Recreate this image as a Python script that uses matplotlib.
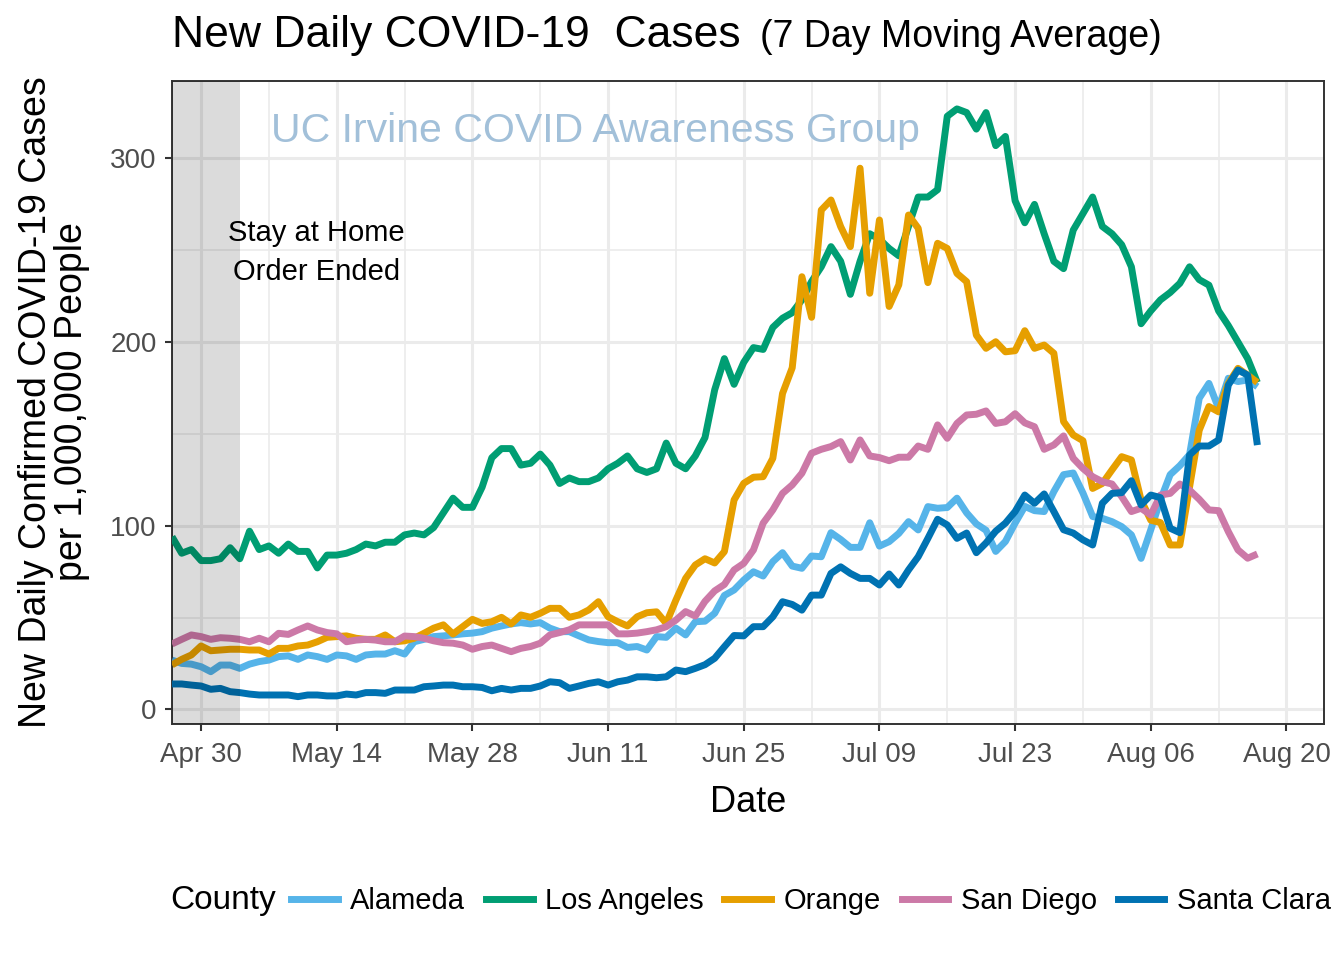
import matplotlib
matplotlib.use("Agg")
import matplotlib.pyplot as plt
from matplotlib.lines import Line2D
import pandas as pd

plt.rcParams['font.family'] = ['Liberation Sans', 'DejaVu Sans']

# daily values, Apr 27 .. Aug 17 2020 (7 day moving average, per 1,000,000 people)
start_date = "2020-04-27"
n_days = 113

alameda = [26.8, 25, 24.6, 23.2, 20.5, 24.1, 24.1, 22.3, 24.6, 26,
           26.8, 28.7, 29.1, 27.2, 29.6, 28.7, 27.2, 29.6, 29.1, 27.2,
           29.6, 30.1, 30.1, 31.9, 30.1, 36.8, 38.1, 39.6, 40, 40.5,
           41.1, 41.5, 42.3, 44.2, 45.4, 46.5, 47.2, 46.5, 47.2, 44.2,
           42.3, 42.3, 40, 37.8, 36.9, 36.3, 36.3, 33.7, 34.2, 32.3,
           39.6, 39.2, 44.2, 40.5, 47.7, 48, 52.3, 62, 65,
           70.4, 74.9, 72.6, 80.4, 85.3, 78, 76.8, 83.5, 83.1, 96.2,
           92.5, 88.2, 88.2, 101.6, 88.9, 91.3, 95.8, 102.2, 97.7, 110.4,
           109.5, 109.9, 115, 107, 101, 97.5, 86, 91.4, 101.4, 110.5,
           108.2, 107.7, 118.6, 127.8, 128.7, 117.8, 105, 104, 102.2, 99.5,
           95, 82.2, 97.8, 114, 127.8, 132.7, 138.7, 169.4, 177.5, 163.9,
           180.3, 178.5, 179.4, 175.7]

los_angeles = [94, 85, 87, 81, 81, 82, 88, 82, 97, 87,
               89, 85, 90, 86, 86, 77, 84, 84, 85, 87,
               90, 89, 91, 91, 95, 96, 95, 99, 107, 115,
               110, 110, 121, 137, 142, 142, 133, 134, 139, 133,
               123, 126, 124, 124, 126, 131, 134, 138, 131, 129,
               131, 145, 134, 131, 138, 148, 174, 191, 177, 189,
               197, 196,
               208, 213, 216, 223, 233, 241, 252, 244, 226, 244,
               259, 256, 251, 247, 263, 279, 279, 283, 323, 327,
               325, 316, 325, 307, 312, 277, 265, 275, 259, 244,
               240, 261, 270, 279, 263, 259, 253, 241, 210, 217,
               223, 227, 232, 241, 234, 231, 217, 209, 200, 191,
               178]

orange = [24.2, 27.2, 29.6, 34.5, 31.9, 32.3, 32.7, 32.7, 32.3, 32.3,
          30.1, 33.2, 33.2, 34.5, 35, 36.8, 39.2, 39.6, 40, 38.7,
          38.1, 38.1, 40.5, 36.8, 37.3, 38.7, 41.4, 44.2, 46, 41,
          45, 49, 46.8, 47.7, 50.1, 46.5, 51.4, 50.1, 52.3, 55,
          55, 50.1, 51.4, 54.1, 58.6, 50.4, 47.7, 45.4, 50.4, 52.6,
          53.1, 46.8, 59.5, 71.3, 78.6, 82, 79.7, 85.9, 114,
          123.1, 126.4, 126.7, 136.7, 172, 186, 235.6, 213.5, 271.9, 277.4,
          262.9, 252, 294.7, 226.6, 266.5, 219.4, 231.2, 269.2, 262, 232.4,
          253.8, 251, 237.4, 232.9, 203.8, 196.6, 200.2, 194.7, 195.3, 206.2,
          196.6, 198.4, 193.9, 156.7, 149.4, 146.3, 120.3, 123, 130.4, 137.6,
          135.8, 114, 103, 101.7, 89.5, 89.5, 121, 152, 164.9, 162,
          177.5, 185.7, 182, 178]

san_diego = [35.6, 38.1, 40.5, 39.6, 38.1, 39, 38.7, 38.1, 36.8, 38.7,
             36.8, 41.4, 40.8, 43.2, 45.4, 43.2, 41.8, 41.1, 36.8, 37.7,
             38.1, 37.7, 36.8, 36.8, 39.9, 39.6, 38.7, 37.3, 36.3, 36,
             35, 32.7, 34.2, 35, 33.2, 31.4, 33.2, 34.2, 36, 40.5,
             41.8, 43.3, 46, 46, 46, 46, 41.1, 41.1, 41.5, 42.3,
             43.3, 45, 48.6, 53.2, 50.8, 58.8, 64.5, 68, 75.9,
             79.5, 86.8, 101.4, 108.6, 117.6, 122.2, 128.6, 139.5, 141.6, 143.1,
             145.8, 135.8, 146.7, 138, 137.1, 135.4, 137.3, 137.3, 143.4, 141.6,
             154.9, 147.6, 155.7, 160.3, 160.7, 162.5, 155.7, 156.6, 161, 156,
             153.9, 141.6, 144, 148.9, 136.7, 131.2, 126.7, 124, 122.7, 115.8,
             107.7, 109.5, 105.8, 116.7, 117.6, 122.7, 119.4, 114.4, 108.6, 108.2,
             96.8, 86.8, 82.3, 84.6]

santa_clara = [13.8, 13.8, 13.2, 12.7, 10.9, 11.4, 9.6, 9.1, 8.3, 7.8,
               7.8, 7.8, 7.8, 6.9, 7.8, 7.8, 7.3, 7.3, 8.3, 7.8,
               9.1, 9.1, 8.7, 10.5, 10.5, 10.5, 12.3, 12.7, 13.2, 13.2,
               12.3, 12.3, 11.9, 10.1, 11.4, 10.5, 11.4, 11.4, 12.7, 15,
               14.5, 11.4, 12.7, 14.1, 15, 13.2, 15, 15.9, 17.7, 17.7,
               17.2, 17.7, 21.4, 20.5, 22.3, 24.3, 27.8, 34.1, 40.2,
               40, 45, 45, 50.4, 58.6, 57.1, 54, 62.2, 62.2, 74,
               77.6, 74, 71.3, 71.3, 67.7, 73.7, 67.7, 75.9, 83.1, 93.1,
               103.5, 100.4, 93.1, 96, 85.3, 90.6, 97, 101.4, 107.7, 116.7,
               112.2, 117.3, 107.7, 97.8, 96, 92.3, 89.5, 112.2, 117.6, 118,
               124.5, 111.3, 116.7, 115.3, 98.6, 96.2, 138.5, 143.4, 143.4, 146.7,
               176.6, 184.8, 182, 143.9]

counties = ["Alameda", "Los Angeles", "Orange", "San Diego", "Santa Clara"]
colors = ["#56B4E9", "#009E73", "#E69F00", "#CC79A7", "#0072B2"]
series = [alameda, los_angeles, orange, san_diego, santa_clara]

dates = pd.date_range(start_date, periods=n_days)

fig = plt.figure(figsize=(13.44, 9.6), dpi=100)
ax = fig.add_axes([172/1344, 1 - 724/960, (1324 - 172)/1344, (724 - 81)/960])

lw = 5
for i, (name, col, vals) in enumerate(zip(counties, colors, series)):
    ax.plot(dates, vals, color=col, lw=lw, solid_joinstyle='round',
            solid_capstyle='butt', zorder=3 + i)

# stay at home period shading (drawn on top like the original)
ax.axvspan(pd.Timestamp("2020-04-20"), pd.Timestamp("2020-05-04"),
           color='black', alpha=0.14, lw=0, zorder=10)

major_ticks = pd.date_range("2020-04-30", periods=9, freq="14D")
minor_ticks = pd.date_range("2020-04-23", periods=10, freq="14D")
ax.set_xticks(major_ticks)
ax.set_xticklabels([d.strftime("%b %d") for d in major_ticks])
ax.set_xticks(minor_ticks, minor=True)
ax.set_yticks([0, 100, 200, 300])
ax.set_yticks([50, 150, 250], minor=True)

ax.set_xlim(pd.Timestamp("2020-04-27"), pd.Timestamp("2020-08-23 21:00"))
ax.set_ylim(-8, 342.2)

ax.grid(which='major', color='#ebebeb', lw=2.2, zorder=0)
ax.grid(which='minor', color='#ebebeb', lw=1.2, zorder=0)
ax.set_axisbelow(True)
ax.tick_params(which='major', length=5, width=1.5, color='#333333',
               labelsize=20, labelcolor='#4d4d4d', pad=8)
ax.tick_params(axis='y', which='major', pad=6)
ax.tick_params(which='minor', length=0)
for s in ax.spines.values():
    s.set_color('#333333')
    s.set_linewidth(1.4)

ax.set_xlabel("Date", fontsize=26, labelpad=12)

fig.text(54/1344, 1 - 402/960,
         "New Daily Confirmed COVID-19 Cases\nper 1,000,000 People",
         rotation=90, ha='center', va='center', fontsize=27, linespacing=1.0)

fig.text(172/1344, 1 - 47/960, "New Daily COVID-19  Cases", fontsize=32,
         ha='left', va='baseline')
fig.text(760/1344, 1 - 47/960, "(7 Day Moving Average)", fontsize=27,
         ha='left', va='baseline')

ax.text(pd.Timestamp("2020-06-09 16:00"), 315, "UC Irvine COVID Awareness Group",
        color='#a2c0d9', fontsize=29.5, ha='center', va='center', zorder=2)
ax.text(pd.Timestamp("2020-05-11 22:00"), 249, "Stay at Home\nOrder Ended",
        fontsize=21, ha='center', va='center', linespacing=1.5, zorder=11)

handles = [Line2D([], [], color=c, lw=lw) for c in colors]
fig.legend(handles, counties, loc='center left', ncol=5,
           bbox_to_anchor=(291/1344, 1 - 901/960), frameon=False,
           fontsize=21, handlelength=1.6, handletextpad=0.42,
           columnspacing=0.72, borderpad=0, borderaxespad=0)
fig.text(170/1344, 1 - 901/960, "County", fontsize=24, ha='left', va='center')

fig.savefig("out.png", dpi=100, facecolor='white')
